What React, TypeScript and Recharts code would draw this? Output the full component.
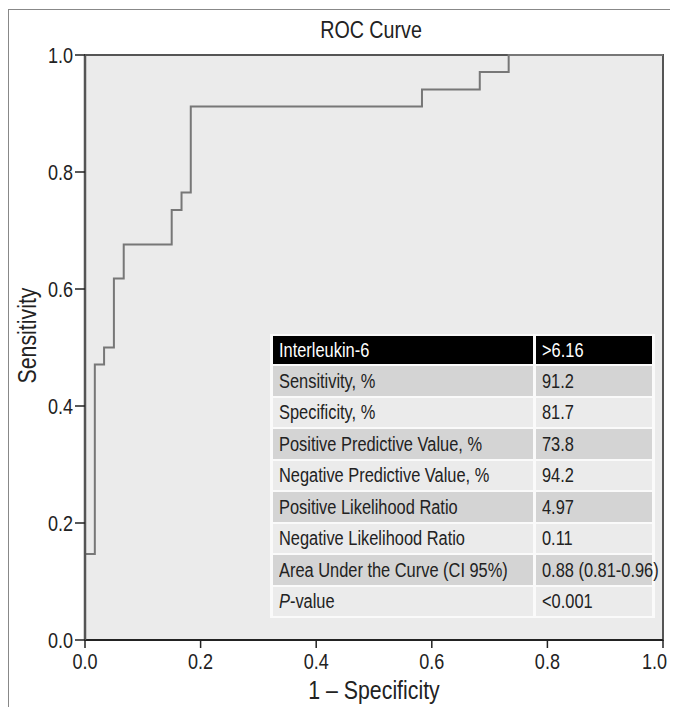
import React from "react";
import {LineChart, Line, XAxis, YAxis, ReferenceArea, Label} from "recharts";

// ROC points (1 - specificity, sensitivity), drawn as a step curve
const fpr = [0, 0, 0.017, 0.033, 0.05, 0.067, 0.15, 0.167, 0.183, 0.583, 0.683, 0.733, 1];
const tpr = [0, 0.147, 0.471, 0.5, 0.618, 0.676, 0.735, 0.765, 0.912, 0.941, 0.971, 1, 1];

const axisTicks = [0, 0.2, 0.4, 0.6, 0.8, 1];

const tableHeader = ["Interleukin-6", ">6.16"];
const tableLabels = [
    "Sensitivity, %",
    "Specificity, %",
    "Positive Predictive Value, %",
    "Negative Predictive Value, %",
    "Positive Likelihood Ratio",
    "Negative Likelihood Ratio",
    "Area Under the Curve (CI 95%)",
    "P-value"
];
const tableValues = ["91.2", "81.7", "73.8", "94.2", "4.97", "0.11", "0.88 (0.81-0.96)", "<0.001"];

// no condensed face installed, so squeeze Liberation Sans horizontally
const FONT = "'Liberation Sans', Arial, sans-serif";
const SQUEEZE = 0.82;
const INK = "#222";

const rocData = fpr.map((x, i) => ({fpr: x, tpr: tpr[i]}));

const NarrowText = (props: any) => {
    const {x, y, angle = 0, anchor = "middle", dy = "0", size = 22, children} = props;
    return (
        <text transform={`translate(${x},${y}) rotate(${angle}) scale(${SQUEEZE},1)`}
              textAnchor={anchor} dy={dy} fill={INK} fontSize={size} fontFamily={FONT}>
            {children}
        </text>
    );
};

// the last label sits at the right edge of the window, keep it inside
const XTick = (props: any) => {
    const last = props.payload.value === 1;
    return (
        <NarrowText x={last ? props.x + 4 : props.x} y={props.y} anchor={last ? "end" : "middle"} dy="0.71em">
            {Number(props.payload.value).toFixed(1)}
        </NarrowText>
    );
};

const YTick = (props: any) => (
    <NarrowText x={props.x} y={props.y} anchor="end" dy="0.355em">
        {Number(props.payload.value).toFixed(1)}
    </NarrowText>
);

const XTitle = (props: any) => {
    const vb = props.viewBox;
    return <NarrowText x={vb.x + vb.width / 2} y={vb.y + vb.height - 16} size={26}>1 – Specificity</NarrowText>;
};

const YTitle = (props: any) => {
    const vb = props.viewBox;
    return (
        <NarrowText x={vb.x + 19} y={vb.y + vb.height / 2 - 12} angle={-90} dy="0.355em" size={26}>
            Sensitivity
        </NarrowText>
    );
};

const squeezed = (content: React.ReactNode) => (
    <span style={{
        display: "inline-block",
        whiteSpace: "nowrap",
        transform: `scaleX(${SQUEEZE})`,
        transformOrigin: "left center"
    }}>{content}</span>
);

const cellText = (label: string) =>
    label === "P-value" ? <span><i>P</i>-value</span> : label;

const cellStyle: React.CSSProperties = {
    padding: "0 6px",
    lineHeight: "20px",
    overflow: "visible",
    whiteSpace: "nowrap",
    boxSizing: "border-box"
};

const StatsTable = () => (
    <table style={{
        position: "absolute",
        left: 262,
        top: 326,
        width: 385,
        tableLayout: "fixed",
        borderCollapse: "separate",
        borderSpacing: "3px 2px",
        background: "#fafafa",
        fontSize: 20,
        color: INK,
        fontFamily: FONT
    }}>
        <colgroup>
            <col style={{width: 260}}/>
            <col style={{width: 116}}/>
        </colgroup>
        <tbody>
        <tr style={{height: 28, background: "#000", color: "#fff"}}>
            <td style={cellStyle}>{squeezed(tableHeader[0])}</td>
            <td style={cellStyle}>{squeezed(tableHeader[1])}</td>
        </tr>
        {tableLabels.map((label, i) => (
            <tr key={label} style={{height: 29.5, background: i % 2 === 0 ? "#d4d4d4" : "#ebebeb"}}>
                <td style={cellStyle}>{squeezed(cellText(label))}</td>
                <td style={cellStyle}>{squeezed(tableValues[i])}</td>
            </tr>
        ))}
        </tbody>
    </table>
);

const App = () => {
    return (
        <div style={{
            position: "relative",
            width: 670,
            height: 707,
            marginBottom: -8,
            fontFamily: FONT,
            overflow: "hidden"
        }}>
            <style>{"html, body { overflow: hidden; }"}</style>
            <div style={{
                position: "absolute",
                left: 0,
                top: 1,
                width: 680,
                height: 720,
                borderLeft: "1px solid #888",
                borderTop: "1px solid #888"
            }}/>
            <div style={{
                position: "absolute",
                left: 0,
                width: 726,
                top: 8,
                textAlign: "center",
                fontSize: 24,
                color: INK
            }}>
                <span style={{display: "inline-block", transform: `scaleX(${SQUEEZE})`}}>ROC Curve</span>
            </div>
            <LineChart width={670} height={707} data={rocData}
                       margin={{top: 47, right: 15, left: 0, bottom: 0}}
                       style={{position: "absolute", left: 0, top: 0}}>
                <ReferenceArea x1={0} x2={1} y1={0} y2={1} fill="#ebebeb" fillOpacity={1}
                               stroke="#555" strokeWidth={2}/>
                <XAxis type="number" dataKey="fpr" domain={[0, 1]} ticks={axisTicks}
                       height={75} tickSize={8} tickMargin={5}
                       axisLine={{stroke: INK, strokeWidth: 2}}
                       tickLine={{stroke: INK, strokeWidth: 1.5}}
                       tick={<XTick/>}>
                    <Label content={<XTitle/>}/>
                </XAxis>
                <YAxis type="number" domain={[0, 1]} ticks={axisTicks}
                       width={77} tickSize={10} tickMargin={2}
                       axisLine={{stroke: "#555", strokeWidth: 2.5}}
                       tickLine={{stroke: INK, strokeWidth: 1.5}}
                       tick={<YTick/>}>
                    <Label content={<YTitle/>}/>
                </YAxis>
                <Line type="stepAfter" dataKey="tpr" stroke="#777" strokeWidth={2}
                      dot={false} activeDot={false} isAnimationActive={false}/>
            </LineChart>
            <StatsTable/>
        </div>
    );
};

export default App;
